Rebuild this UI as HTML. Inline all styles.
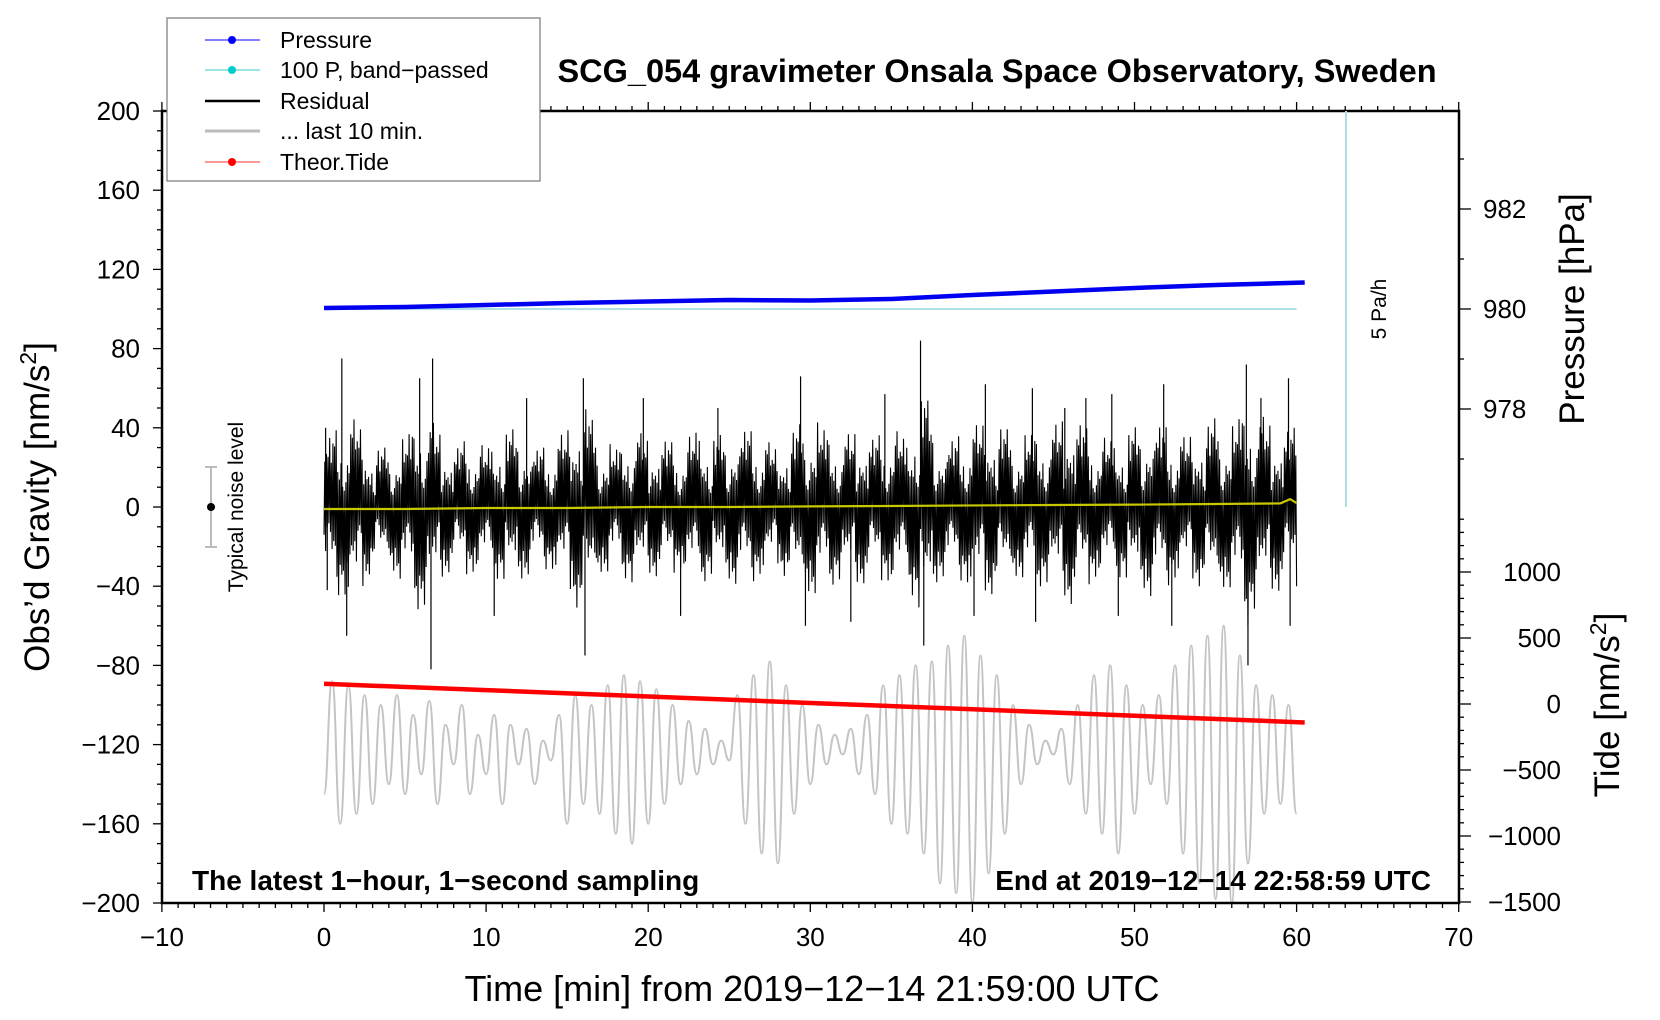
<!DOCTYPE html>
<html><head><meta charset="utf-8"><style>
html,body{margin:0;padding:0;background:#fff}
svg{display:block;font-family:"Liberation Sans",sans-serif}
</style></head><body>
<svg id="chart" width="1660" height="1020" viewBox="0 0 1660 1020" xmlns="http://www.w3.org/2000/svg">
<g id="marks"></g>
<g id="axes"></g>
<text x="997" y="82" text-anchor="middle" font-size="32.5" font-weight="bold">SCG_054 gravimeter Onsala Space Observatory, Sweden</text>
<text x="192" y="890" font-size="28" font-weight="bold">The latest 1−hour, 1−second sampling</text>
<text x="1431" y="890" text-anchor="end" font-size="28" font-weight="bold">End at 2019−12−14 22:58:59 UTC</text>
<text x="812" y="1001" text-anchor="middle" font-size="36">Time [min] from 2019−12−14 21:59:00 UTC</text>
<text transform="translate(49,507) rotate(-90)" text-anchor="middle" font-size="35">Obs’d Gravity [nm/s<tspan font-size="23" dy="-13">2</tspan><tspan dy="13">]</tspan></text>
<text transform="translate(1584,309) rotate(-90)" text-anchor="middle" font-size="35">Pressure [hPa]</text>
<text transform="translate(1619,705) rotate(-90)" text-anchor="middle" font-size="35">Tide [nm/s<tspan font-size="23" dy="-13">2</tspan><tspan dy="13">]</tspan></text>
<line x1="211" y1="467" x2="211" y2="547" stroke="#bbb" stroke-width="2"/>
<line x1="205" y1="467" x2="217" y2="467" stroke="#bbb" stroke-width="2"/>
<line x1="205" y1="547" x2="217" y2="547" stroke="#bbb" stroke-width="2"/>
<circle cx="211" cy="507" r="4" fill="#000"/>
<text transform="translate(243,507) rotate(-90)" text-anchor="middle" font-size="21">Typical noise level</text>
<line x1="1346" y1="111" x2="1346" y2="507" stroke="#aee0e6" stroke-width="2"/>
<text transform="translate(1386,309) rotate(-90)" text-anchor="middle" font-size="21">5 Pa/h</text>
<g>
<rect x="167" y="18" width="373" height="163" fill="#fff" stroke="#777" stroke-width="1.2"/>
<g><line x1="205" y1="40" x2="260" y2="40" stroke="#00f" stroke-width="1"/><circle cx="232" cy="40" r="4" fill="#00f"/><text x="280" y="48" font-size="23">Pressure</text></g>
<g><line x1="205" y1="70" x2="260" y2="70" stroke="#3cc" stroke-width="1"/><circle cx="232" cy="70" r="4" fill="#0cc"/><text x="280" y="78" font-size="23">100 P, band−passed</text></g>
<g><line x1="205" y1="101" x2="260" y2="101" stroke="#000" stroke-width="2.5"/><text x="280" y="109" font-size="23">Residual</text></g>
<g><line x1="205" y1="131" x2="260" y2="131" stroke="#bbb" stroke-width="3"/><text x="280" y="139" font-size="23">... last 10 min.</text></g>
<g><line x1="205" y1="162" x2="260" y2="162" stroke="#f33" stroke-width="1"/><circle cx="232" cy="162" r="4" fill="#f00"/><text x="280" y="170" font-size="23">Theor.Tide</text></g>
</g>
</svg>
<script>
// ---- data ----
const xTicks = [-10,0,10,20,30,40,50,60,70];
const yTicks = [200,160,120,80,40,0,-40,-80,-120,-160,-200];
const pTicks = [982,980,978];
const tideTicks = [1000,500,0,-500,-1000,-1500];
const pressureTimes = [0,5,10,15,20,25,30,35,40,45,50,55,60.5];
const pressureHpa = [980.02,980.04,980.08,980.12,980.15,980.18,980.17,980.2,980.28,980.35,980.42,980.48,980.53];
const bandTimes = [0,60];
const bandVals = [100,100];
const residUpper = [35,40,45,30,30,35,50,40,30,35,30,38,40,30,30,40,55,35,30,40,35,35,30,40,35,38,40,35,30,40,45,40,35,40,35,40,35,60,35,35,40,45,40,35,40,40,50,40,35,35,40,45,40,35,40,45,40,55,45,40,40];
const residLower = [-40,-45,-50,-30,-32,-38,-55,-40,-30,-35,-32,-38,-40,-30,-32,-40,-58,-35,-30,-40,-35,-35,-32,-40,-35,-38,-40,-35,-30,-42,-45,-40,-38,-40,-35,-40,-38,-60,-35,-35,-42,-45,-40,-35,-40,-40,-50,-40,-35,-35,-40,-45,-40,-35,-40,-45,-40,-60,-45,-42,-40];
const spikeTimes = [0.1,0.2,1.1,1.4,5.9,6.6,6.7,10.5,12.5,16.0,16.1,19.7,22.0,24.3,29.4,29.7,32.5,34.6,36.8,37.0,40.1,40.8,43.7,43.9,45.7,47.0,48.6,49.0,51.8,52.3,56.9,57.0,57.8,59.5,59.6];
const spikeVals = [40,-42,75,-65,65,-82,75,-55,55,65,-75,55,-55,50,66,-60,-58,57,84,-70,-55,62,60,-58,50,55,57,-55,62,-60,72,-80,55,65,-60];
const yellowTimes = [0,5,10,15,20,25,30,35,40,45,50,55,59,59.6,60];
const yellowVals = [-1,-1,-0.5,-0.5,0,0,0.3,0.5,0.8,1,1.2,1.5,1.8,4,2];
const grayVals = [-145,-88,-160,-90,-155,-95,-150,-100,-140,-95,-145,-105,-135,-98,-150,-110,-130,-100,-145,-115,-135,-105,-150,-110,-130,-112,-140,-118,-128,-105,-160,-95,-150,-100,-155,-90,-165,-85,-170,-88,-160,-92,-150,-100,-140,-108,-135,-112,-130,-118,-128,-95,-160,-85,-175,-78,-180,-90,-155,-100,-140,-110,-130,-115,-125,-112,-135,-105,-145,-90,-160,-85,-165,-80,-175,-78,-190,-70,-195,-65,-200,-75,-185,-85,-165,-100,-140,-110,-130,-118,-125,-112,-140,-100,-155,-85,-165,-80,-175,-90,-155,-100,-140,-95,-150,-80,-175,-70,-190,-65,-198,-60,-200,-75,-180,-90,-155,-95,-150,-100,-155];
const tideTimes = [0,10,20,30,40,50,60.5];
const tideVals = [153,105,57,8,-40,-89,-140];

// ---- axes functions ----
const X = t => 324 + t*16.21;
const Y = v => 507 - v*1.98;
const P = h => 309 - (h-980)*50;
const T = v => 704 - v*0.132;
const NS = 'http://www.w3.org/2000/svg';
const marks = document.getElementById('marks');
const axes = document.getElementById('axes');
function mk(tag, attrs, parent){const e=document.createElementNS(NS,tag);for(const k in attrs)e.setAttribute(k,attrs[k]);parent.appendChild(e);return e;}

const tex = [0.35,0.8,0.5,0.95,0.25,0.65,0.45,0.85,0.3,0.7,0.55,1.0,0.4,0.6,0.2,0.75];
let d='';
for(let i=0;i<=1200;i++){const t=i*0.05;const k=Math.min(59,Math.floor(t));const f=t-k;
  const u=residUpper[k]*(1-f)+residUpper[k+1]*f, l=residLower[k]*(1-f)+residLower[k+1]*f;
  const v=(i%2?u:l)*tex[(i*5+Math.floor(i/16))%16];
  d+=(i?'L':'M')+X(t).toFixed(2)+' '+Y(v).toFixed(1);}
const band=mk('path',{d:d,fill:'none',stroke:'#000','stroke-width':1.1},marks);


spikeTimes.forEach((t,i)=>{const s=mk('line',{x1:X(t),x2:X(t),y1:Y(0),y2:Y(spikeVals[i]),stroke:'#000','stroke-width':1.2},marks);
  
  });

const n=grayVals.length;
const gp=grayVals.map((v,i)=>[X(i*60/(n-1)),Y(v)]);
let g='M'+gp[0][0]+' '+gp[0][1];
for(let i=1;i<n;i++){const mx=(gp[i-1][0]+gp[i][0])/2;g+=' C'+mx+' '+gp[i-1][1]+' '+mx+' '+gp[i][1]+' '+gp[i][0]+' '+gp[i][1];}
const gray=mk('path',{d:g,fill:'none',stroke:'#c4c4c4','stroke-width':2},marks);



const yl=mk('polyline',{points:yellowTimes.map((t,i)=>X(t)+','+Y(yellowVals[i])).join(' '),fill:'none',stroke:'#c8c800','stroke-width':2.2},marks);



const bp=mk('polyline',{points:bandTimes.map((t,i)=>X(t)+','+Y(bandVals[i])).join(' '),fill:'none',stroke:'#aee0e6','stroke-width':2},marks);


const pr=mk('polyline',{points:pressureTimes.map((t,i)=>X(t)+','+P(pressureHpa[i])).join(' '),fill:'none',stroke:'#0000f0','stroke-width':4.5},marks);


const td=mk('polyline',{points:tideTimes.map((t,i)=>X(t)+','+T(tideVals[i])).join(' '),fill:'none',stroke:'#f00','stroke-width':4.5},marks);



const fr=mk('rect',{x:162,y:111,width:1297,height:792,fill:'none',stroke:'#000','stroke-width':2.5},axes);


for(let t=-10;t<=70;t++){const maj=t%10===0;const L=maj?9:5;
  mk('line',{x1:X(t),x2:X(t),y1:903,y2:903+L,stroke:'#000','stroke-width':1.3},axes);
  mk('line',{x1:X(t),x2:X(t),y1:111,y2:111-L,stroke:'#000','stroke-width':1.3},axes);}
xTicks.forEach(t=>{const e=mk('text',{x:X(t),y:946,'text-anchor':'middle','font-size':26},axes);e.textContent=String(t).replace('-','−');
  
  });
for(let v=-200;v<=200;v+=10){const maj=v%40===0;mk('line',{x1:162,x2:162-(maj?9:5),y1:Y(v),y2:Y(v),stroke:'#000','stroke-width':1.3},axes);}
yTicks.forEach(v=>{const e=mk('text',{x:140,y:Y(v)+9,'text-anchor':'end','font-size':26},axes);e.textContent=String(v).replace('-','−');
  
  });
for(let h=977;h<=983;h++){const maj=h%2===0;mk('line',{x1:1459,x2:1459+(maj?12:5),y1:P(h),y2:P(h),stroke:'#000','stroke-width':1.3},axes);}
pTicks.forEach(h=>{const e=mk('text',{x:1483,y:P(h)+9,'font-size':26},axes);e.textContent=h;
  
  });
for(let v=-1500;v<=1400;v+=100){const maj=v%500===0;mk('line',{x1:1459,x2:1459+(maj?12:5),y1:T(v),y2:T(v),stroke:'#000','stroke-width':1.3},axes);}
tideTicks.forEach(v=>{const e=mk('text',{x:1561,y:T(v)+9,'text-anchor':'end','font-size':26},axes);e.textContent=String(v).replace('-','−');
  
  });
</script>
</body></html>
